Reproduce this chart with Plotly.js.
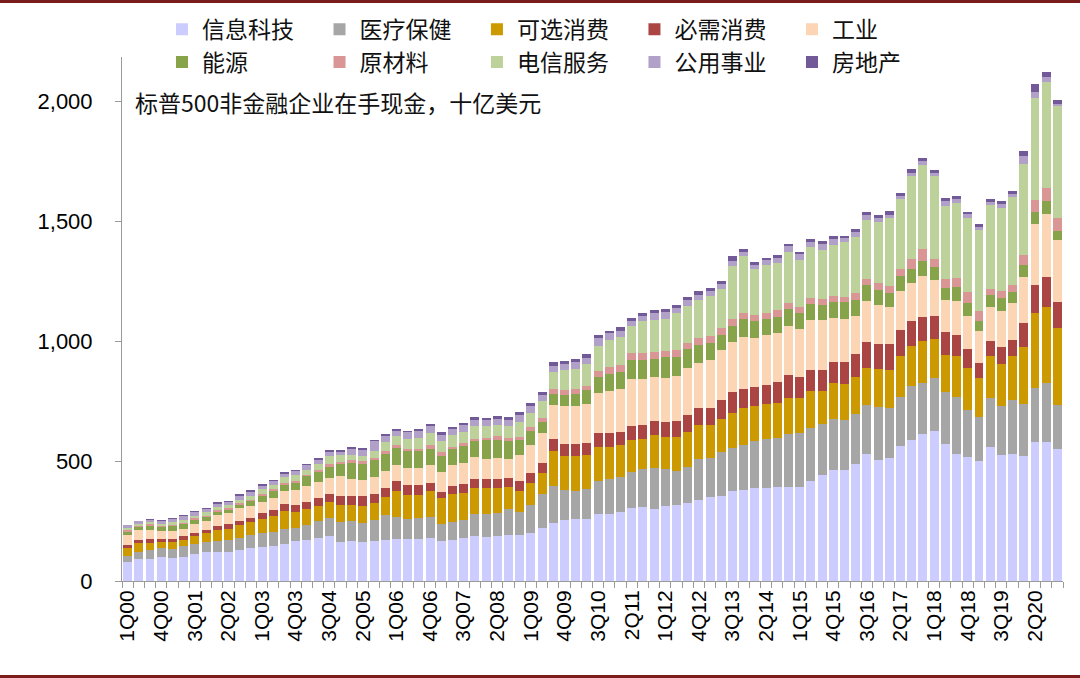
<!DOCTYPE html>
<html>
<head>
<meta charset="utf-8">
<script src="https://cdn.plot.ly/plotly-3.0.1.min.js"></script>
<style>
  html, body { margin: 0; padding: 0; background: #fff; }
  #wrap { position: relative; width: 1080px; height: 678px; overflow: hidden; }
  #chart { position: absolute; left: 0; top: 0; width: 1080px; height: 678px; }
  .rule { position: absolute; left: 0; width: 1080px; height: 3px; background: #7b1c1c; }
</style>
</head>
<body>
<div id="wrap">
  <div id="chart"></div>
  <div class="rule" style="top:0"></div>
  <div class="rule" style="top:675px"></div>
</div>
<script>
const quarters = [
  "1Q00","2Q00","3Q00","4Q00","1Q01","2Q01","3Q01","4Q01","1Q02","2Q02","3Q02","4Q02",
  "1Q03","2Q03","3Q03","4Q03","1Q04","2Q04","3Q04","4Q04","1Q05","2Q05","3Q05","4Q05",
  "1Q06","2Q06","3Q06","4Q06","1Q07","2Q07","3Q07","4Q07","1Q08","2Q08","3Q08","4Q08",
  "1Q09","2Q09","3Q09","4Q09","1Q10","2Q10","3Q10","4Q10","1Q11","2Q11","3Q11","4Q11",
  "1Q12","2Q12","3Q12","4Q12","1Q13","2Q13","3Q13","4Q13","1Q14","2Q14","3Q14","4Q14",
  "1Q15","2Q15","3Q15","4Q15","1Q16","2Q16","3Q16","4Q16","1Q17","2Q17","3Q17","4Q17",
  "1Q18","2Q18","3Q18","4Q18","1Q19","2Q19","3Q19","4Q19","1Q20","2Q20","3Q20","4Q20"
];
const shownTickLabels = ["1Q00","4Q00","3Q01","2Q02","1Q03","4Q03","3Q04","2Q05","1Q06","4Q06",
  "3Q07","2Q08","1Q09","4Q09","3Q10","2Q11","1Q12","4Q12","3Q13","2Q14","1Q15","4Q15",
  "3Q16","2Q17","1Q18","4Q18","3Q19","2Q20"];

const seriesNames = ["信息科技","医疗保健","可选消费","必需消费","工业","能源","原材料","电信服务","公用事业","房地产"];

const infoTech = [78,92,93,100,97,101,111,119,122,122,128,138,143,147,154,165,172,178,188,163,165,161,167,172,
  174,175,177,181,167,172,178,189,185,186,193,190,200,222,242,253,258,260,279,279,286,303,310,301,
  313,315,324,339,349,356,374,378,386,386,391,392,392,418,440,463,464,488,531,504,514,561,586,612,
  626,572,531,515,501,558,525,529,522,578,579,550];
const healthCare = [25,30,35,38,38,43,42,45,46,47,50,54,58,59,61,57,60,71,76,84,86,81,87,103,
  93,85,86,86,72,76,78,90,94,97,107,96,115,142,155,128,116,123,136,147,147,151,155,171,
  154,143,152,169,164,182,180,190,199,206,203,221,225,220,216,213,206,208,204,221,207,206,225,213,
  219,214,236,199,181,203,206,224,216,226,246,185];
const consDisc = [34,36,30,26,26,28,33,35,46,49,55,52,59,63,78,67,69,64,64,71,64,69,70,74,
  109,100,94,109,107,115,111,110,110,106,90,90,93,86,146,141,145,141,143,134,133,134,128,135,
  134,141,146,142,136,138,147,152,144,147,146,148,147,156,137,149,151,154,151,160,160,169,167,175,
  163,157,169,172,163,175,173,183,237,313,319,319];
const consStaples = [14,14,16,12,13,14,14,12,17,20,18,20,22,27,27,26,28,33,35,37,40,42,39,40,
  39,39,42,32,26,33,36,36,36,37,38,42,43,43,50,47,52,50,57,55,53,59,58,60,
  62,68,70,72,73,80,85,80,79,79,88,96,85,87,86,89,93,97,111,101,108,109,104,100,
  96,93,90,81,63,65,71,70,100,116,123,110];
const industrials = [42,39,40,31,33,32,37,38,43,45,52,50,47,51,56,63,67,65,66,81,70,69,69,69,
  70,73,70,77,81,86,89,90,85,85,80,107,117,124,142,162,157,165,170,176,181,196,189,182,
  182,189,197,186,199,205,209,215,203,207,207,204,202,208,207,181,178,156,168,164,153,162,160,173,
  152,136,139,136,132,141,149,152,190,255,264,258];
const energy = [11,14,17,18,21,19,19,16,15,14,14,19,25,28,25,29,40,42,47,50,67,66,71,71,
  69,70,71,66,69,67,69,67,76,75,75,61,56,47,46,45,51,56,65,70,70,78,81,75,
  88,77,78,77,71,65,69,77,71,68,66,74,66,64,66,69,69,67,67,61,58,63,60,60,
  51,50,59,55,45,48,55,46,53,52,54,35];
const materials = [7,6,5,6,5,6,7,7,5,6,7,6,9,7,7,8,6,8,10,11,11,11,11,11,
  11,9,11,14,14,10,13,10,8,20,13,14,16,17,18,21,22,18,26,32,31,29,29,29,
  27,28,26,29,30,27,28,25,28,24,30,23,23,26,23,22,24,30,28,31,28,32,41,52,
  35,36,39,45,41,27,28,28,39,46,55,56];
const telecom = [10,8,8,8,11,10,6,16,16,14,15,17,20,18,24,27,22,28,36,27,21,23,28,38,
  41,42,45,53,49,48,48,55,50,43,48,64,60,68,73,81,82,91,102,111,115,114,132,136,
  133,154,153,158,166,165,223,236,189,200,195,212,199,213,206,215,230,233,243,255,285,290,343,350,
  344,307,312,312,335,350,349,368,383,429,438,465];
const utilities = [11,10,12,12,14,16,17,12,12,14,17,16,14,15,16,16,19,17,17,15,26,25,40,28,
  20,26,28,29,25,27,28,25,26,27,28,28,31,26,25,25,30,27,33,28,24,21,22,28,
  29,24,24,22,19,20,20,19,19,19,21,25,22,23,23,26,14,21,24,16,14,14,14,15,
  14,17,17,16,14,14,16,14,30,25,22,10];
const realEstate = [3,2,4,5,6,6,4,6,6,4,5,6,7,7,6,6,6,7,5,7,7,7,7,7,
  7,7,8,9,9,9,8,10,10,10,10,11,9,13,14,14,13,15,14,11,17,10,13,11,
  13,11,12,14,13,11,18,13,13,10,13,11,11,11,14,11,11,14,12,12,16,11,18,13,
  14,13,11,9,11,11,13,11,22,32,22,15];

const seriesValues = [infoTech, healthCare, consDisc, consStaples, industrials, energy, materials, telecom, utilities, realEstate];
const seriesColors = ["#ccccff","#a6a6a6","#cc9900","#aa4544","#fcd5b5","#88a44a","#d99694","#bcd29a","#b1a0c7","#725a99"];

// legend column layout: 5 columns, 2 rows
const legendIds = ["legend","legend2","legend3","legend4","legend5"];
const legendColX = [0.0425, 0.2099, 0.3772, 0.5446, 0.7120];

const traces = seriesNames.map((name, k) => ({
  type: "bar",
  name: name,
  x: quarters,
  y: seriesValues[k],
  legend: legendIds[k % 5],
  marker: { color: seriesColors[k], line: { width: 0 } },
  hoverinfo: "skip"
}));

const tickText = quarters.map(q => shownTickLabels.includes(q) ? q : "");

const cjk = "Noto Sans CJK SC, Noto Sans, sans-serif";
const latin = "Liberation Sans, Arial, sans-serif";

const layout = {
  width: 1080,
  height: 678,
  paper_bgcolor: "#ffffff",
  plot_bgcolor: "#ffffff",
  margin: { l: 122, r: 17, t: 57, b: 97, pad: 0, autoexpand: false },
  barmode: "stack",
  bargap: 0.2,
  showlegend: true,
  xaxis: {
    type: "category",
    range: [-0.5, quarters.length - 0.5],
    tickmode: "array",
    tickvals: quarters,
    ticktext: tickText,
    tickangle: -90,
    tickson: "boundaries",
    ticks: "outside",
    ticklen: 6,
    tickcolor: "#9a9a9a",
    showline: true,
    linecolor: "#9a9a9a",
    linewidth: 1,
    showgrid: false,
    zeroline: false,
    automargin: false,
    tickfont: { family: latin, size: 21, color: "#000" },
    fixedrange: true
  },
  yaxis: {
    range: [0, 2184],
    tickmode: "array",
    tickvals: [0, 500, 1000, 1500, 2000],
    tickformat: ",",
    ticks: "outside",
    ticklen: 6,
    tickcolor: "#9a9a9a",
    ticklabelstandoff: 18,
    showline: true,
    linecolor: "#9a9a9a",
    linewidth: 1,
    showgrid: false,
    zeroline: false,
    automargin: false,
    tickfont: { family: latin, size: 22, color: "#000" },
    fixedrange: true
  },
  annotations: [{
    text: "标普500非金融企业在手现金，十亿美元",
    xref: "paper", yref: "paper",
    x: 0.012, y: 0.915,
    xanchor: "left", yanchor: "middle",
    showarrow: false,
    font: { family: cjk, size: 23, color: "#111" }
  }]
};

legendIds.forEach((id, c) => {
  layout[id] = {
    orientation: "v",
    x: legendColX[c], xanchor: "left",
    y: 1.094, yanchor: "top",
    traceorder: "normal",
    itemwidth: 30,
    font: { family: cjk, size: 23, color: "#111" },
    bgcolor: "rgba(0,0,0,0)",
    borderwidth: 0
  };
});

Plotly.newPlot("chart", traces, layout, { displayModeBar: false, staticPlot: true });
</script>
</body>
</html>
